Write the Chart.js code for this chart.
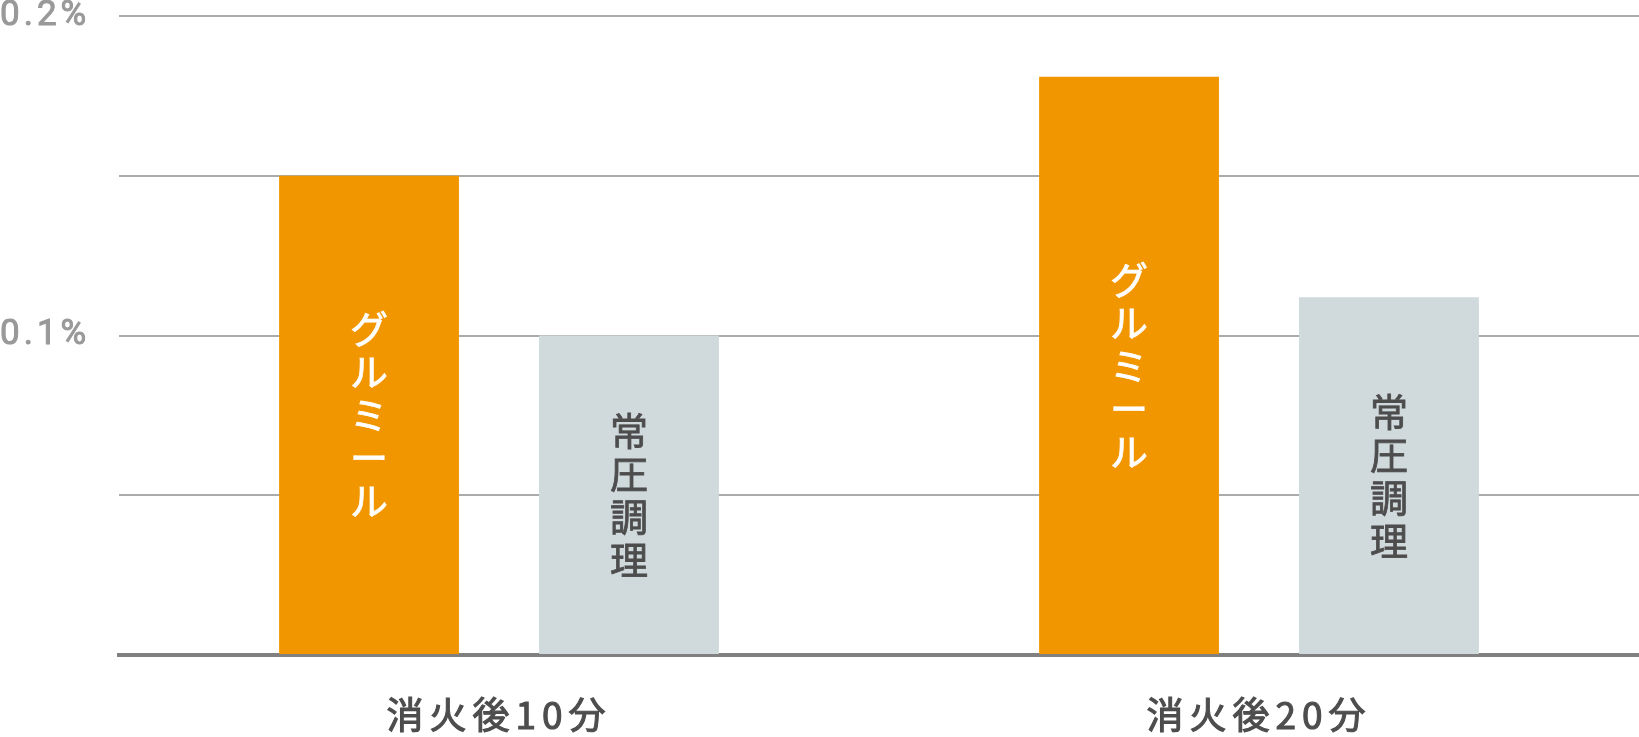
<!DOCTYPE html>
<html lang="ja">
<head>
<meta charset="utf-8">
<title>消火後の比較</title>
<script src="https://cdn.jsdelivr.net/npm/chart.js@4.4.1/dist/chart.umd.min.js"></script>
<style>
  html, body { margin: 0; padding: 0; background: #fff; }
  #wrap { width: 1639px; height: 737px; }
</style>
</head>
<body>
<div id="wrap"><canvas id="chart" width="1639" height="737"></canvas></div>
<script>
// Data
const categories = ['消火後10分', '消火後20分'];
const seriesNames = ['グルミール', '常圧調理'];
const glumealValues = [0.15, 0.181];
const normalValues = [0.1, 0.112];
const labeledTicks = [0.1, 0.2];

const ORANGE = '#f29600';
const GREY = '#d0d9dc';
const TEXT_DARK = '#4d4d4d';
const FONT = '"Noto Sans CJK JP", "Noto Sans", sans-serif';

// letter spacing for each axis' tick labels
const tickSpacing = { x: '6px', y: '4px' };

const letterSpacingPlugin = {
    id: 'letterSpacing',
    afterUpdate(chart) {
        Object.values(chart.scales).forEach(scale => {
            if (scale._spaced) return;
            const orig = scale.drawLabels.bind(scale);
            scale.drawLabels = function (area) {
                const ctx = this.ctx;
                ctx.save();
                ctx.letterSpacing = tickSpacing[this.id] || '0px';
                orig(area);
                ctx.restore();
            };
            scale._spaced = true;
        });
    }
};

// Series name written vertically in the middle of each bar
const barLabelPlugin = {
    id: 'barLabels',
    afterDatasetsDraw(chart) {
        const ctx = chart.ctx;
        ctx.save();
        ctx.font = '400 38px ' + FONT;
        ctx.textAlign = 'center';
        ctx.textBaseline = 'middle';
        ctx.lineWidth = 0.8;
        const pitch = 43;
        chart.data.datasets.forEach((ds, i) => {
            const meta = chart.getDatasetMeta(i);
            ctx.fillStyle = ds.textColor;
            ctx.strokeStyle = ds.textColor;
            const chars = Array.from(ds.label);
            meta.data.forEach(bar => {
                const mid = (bar.y + bar.base) / 2;
                const start = mid - (chars.length - 1) * pitch / 2;
                chars.forEach((c, k) => {
                    ctx.fillText(c, bar.x, start + k * pitch);
                    ctx.strokeText(c, bar.x, start + k * pitch);
                });
            });
        });
        ctx.restore();
    }
};

new Chart(document.getElementById('chart'), {
    type: 'bar',
    data: {
        labels: categories,
        datasets: [
            {
                label: seriesNames[0],
                data: glumealValues,
                backgroundColor: ORANGE,
                textColor: '#ffffff'
            },
            {
                label: seriesNames[1],
                data: normalValues,
                backgroundColor: GREY,
                textColor: TEXT_DARK
            }
        ]
    },
    options: {
        responsive: false,
        animation: false,
        devicePixelRatio: 1,
        categoryPercentage: 0.684,
        barPercentage: 0.692,
        layout: { padding: { top: 16, right: 0, left: 0, bottom: 0 } },
        plugins: {
            legend: { display: false },
            tooltip: { enabled: false }
        },
        scales: {
            x: {
                grid: { display: false, drawTicks: false },
                border: { display: true, color: '#808080', width: 4 },
                ticks: {
                    padding: 41,
                    color: TEXT_DARK,
                    textStrokeColor: TEXT_DARK,
                    textStrokeWidth: 1.1,
                    font: { family: FONT, size: 37, weight: '400', lineHeight: 1 }
                },
                afterFit(scale) { scale.height = 82; }
            },
            y: {
                min: 0,
                max: 0.2,
                grid: { color: '#ababab', lineWidth: 2, drawTicks: false },
                border: { display: false },
                ticks: {
                    stepSize: 0.05,
                    crossAlign: 'far',
                    padding: 0,
                    color: '#999999',
                    textStrokeColor: '#999999',
                    textStrokeWidth: 1,
                    font: { family: 'Roboto, sans-serif', size: 35, weight: '400', lineHeight: 0.9 },
                    callback(value) {
                        const hit = labeledTicks.some(t => Math.abs(t - value) < 1e-9);
                        return hit ? value.toFixed(1) + '%' : '';
                    }
                },
                afterFit(scale) { scale.width = 119; }
            }
        }
    },
    plugins: [letterSpacingPlugin, barLabelPlugin]
});
</script>
</body>
</html>
